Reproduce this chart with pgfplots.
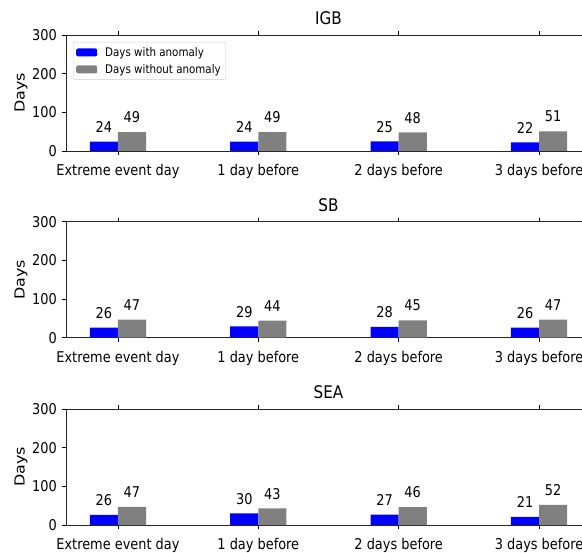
\documentclass[border=0pt]{standalone}
\usepackage{pgfplots}
\pgfplotsset{compat=1.18}
\usepackage{fontspec}
\setmainfont{DejaVu Sans}[FakeStretch=0.87]
\newfontfamily\yfont{DejaVu Sans}[FakeStretch=1.15]
\definecolor{barblue}{RGB}{0,0,255}
\definecolor{bargray}{RGB}{128,128,128}
\newcommand{\tfont}{\fontsize{14.9}{17}\selectfont}
\pgfplotsset{
  panel/.style={
    scale only axis, width=525bp, height=116bp,
    anchor=south west,
    xmin=-0.37, xmax=3.37, ymin=0, ymax=300,
    xtick={0,1,2,3},
    xticklabels={Extreme event day,1 day before,2 days before,3 days before},
    ytick={0,100,200,300},
    tick align=outside, major tick length=4bp,
    tick style={black, line width=0.8bp},
    axis line style={black!85, line width=0.9bp},
    /pgf/number format/assume math mode=true,
    xticklabel style={font=\tfont, anchor=base, inner sep=0pt, yshift=-20.5bp},
    yticklabel style={font=\tfont, anchor=east, inner sep=0pt, xshift=-5bp},
    every axis y label/.style={at={(axis description cs:0,0.5)}, xshift=-45bp, rotate=90, anchor=center, font=\yfont\fontsize{13.9}{16}\selectfont},
    ylabel={Days},
    every axis title/.style={at={(axis description cs:0.5,1)}, anchor=base, yshift=10.6bp, inner sep=0pt, font=\fontsize{17.5}{20}\selectfont},
    clip=false,
  },
  valsb/.style={nodes near coords,
    every node near coord/.style={anchor=base, inner sep=0pt, yshift=9.3bp, xshift=-14bp, font=\tfont, black}},
  valsg/.style={nodes near coords,
    every node near coord/.style={anchor=base, inner sep=0pt, yshift=9.3bp, xshift=14bp, font=\tfont, black}},
}
\begin{document}
\begin{tikzpicture}[x=1bp,y=1bp]
% ---- IGB
\begin{axis}[panel, at={(66bp,402bp)}, title={IGB},
  legend style={at={(axis description cs:0,1)}, anchor=north west, xshift=7bp, yshift=-7bp,
    draw=black!20, rounded corners=2bp, fill=white, font=\fontsize{11.9}{14}\selectfont,
    inner xsep=3bp, inner ysep=3bp, row sep=2.5bp, column sep=6bp, legend cell align=left},
  legend image code/.code={\fill[#1] (0bp,-4bp) rectangle (21bp,4bp);}]
\addplot[ybar, bar width=0.2, bar shift=-0.1, fill=barblue, draw=none, valsb] coordinates {(0,24) (1,24) (2,25) (3,22)};
\addplot[ybar, bar width=0.2, bar shift=0.1, fill=bargray, draw=none, valsg] coordinates {(0,49) (1,49) (2,48) (3,51)};
\legend{Days with anomaly, Days without anomaly}
\end{axis}
% ---- SB
\begin{axis}[panel, at={(66bp,215.3bp)}, title={SB}]
\addplot[ybar, bar width=0.2, bar shift=-0.1, fill=barblue, draw=none, valsb] coordinates {(0,26) (1,29) (2,28) (3,26)};
\addplot[ybar, bar width=0.2, bar shift=0.1, fill=bargray, draw=none, valsg] coordinates {(0,47) (1,44) (2,45) (3,47)};
\end{axis}
% ---- SEA
\begin{axis}[panel, at={(66bp,28bp)}, title={SEA}]
\addplot[ybar, bar width=0.2, bar shift=-0.1, fill=barblue, draw=none, valsb] coordinates {(0,26) (1,30) (2,27) (3,21)};
\addplot[ybar, bar width=0.2, bar shift=0.1, fill=bargray, draw=none, valsg] coordinates {(0,47) (1,43) (2,46) (3,52)};
\end{axis}
\pgfresetboundingbox
\useasboundingbox (0bp,0bp) rectangle (582bp,553bp);
\end{tikzpicture}
\end{document}
